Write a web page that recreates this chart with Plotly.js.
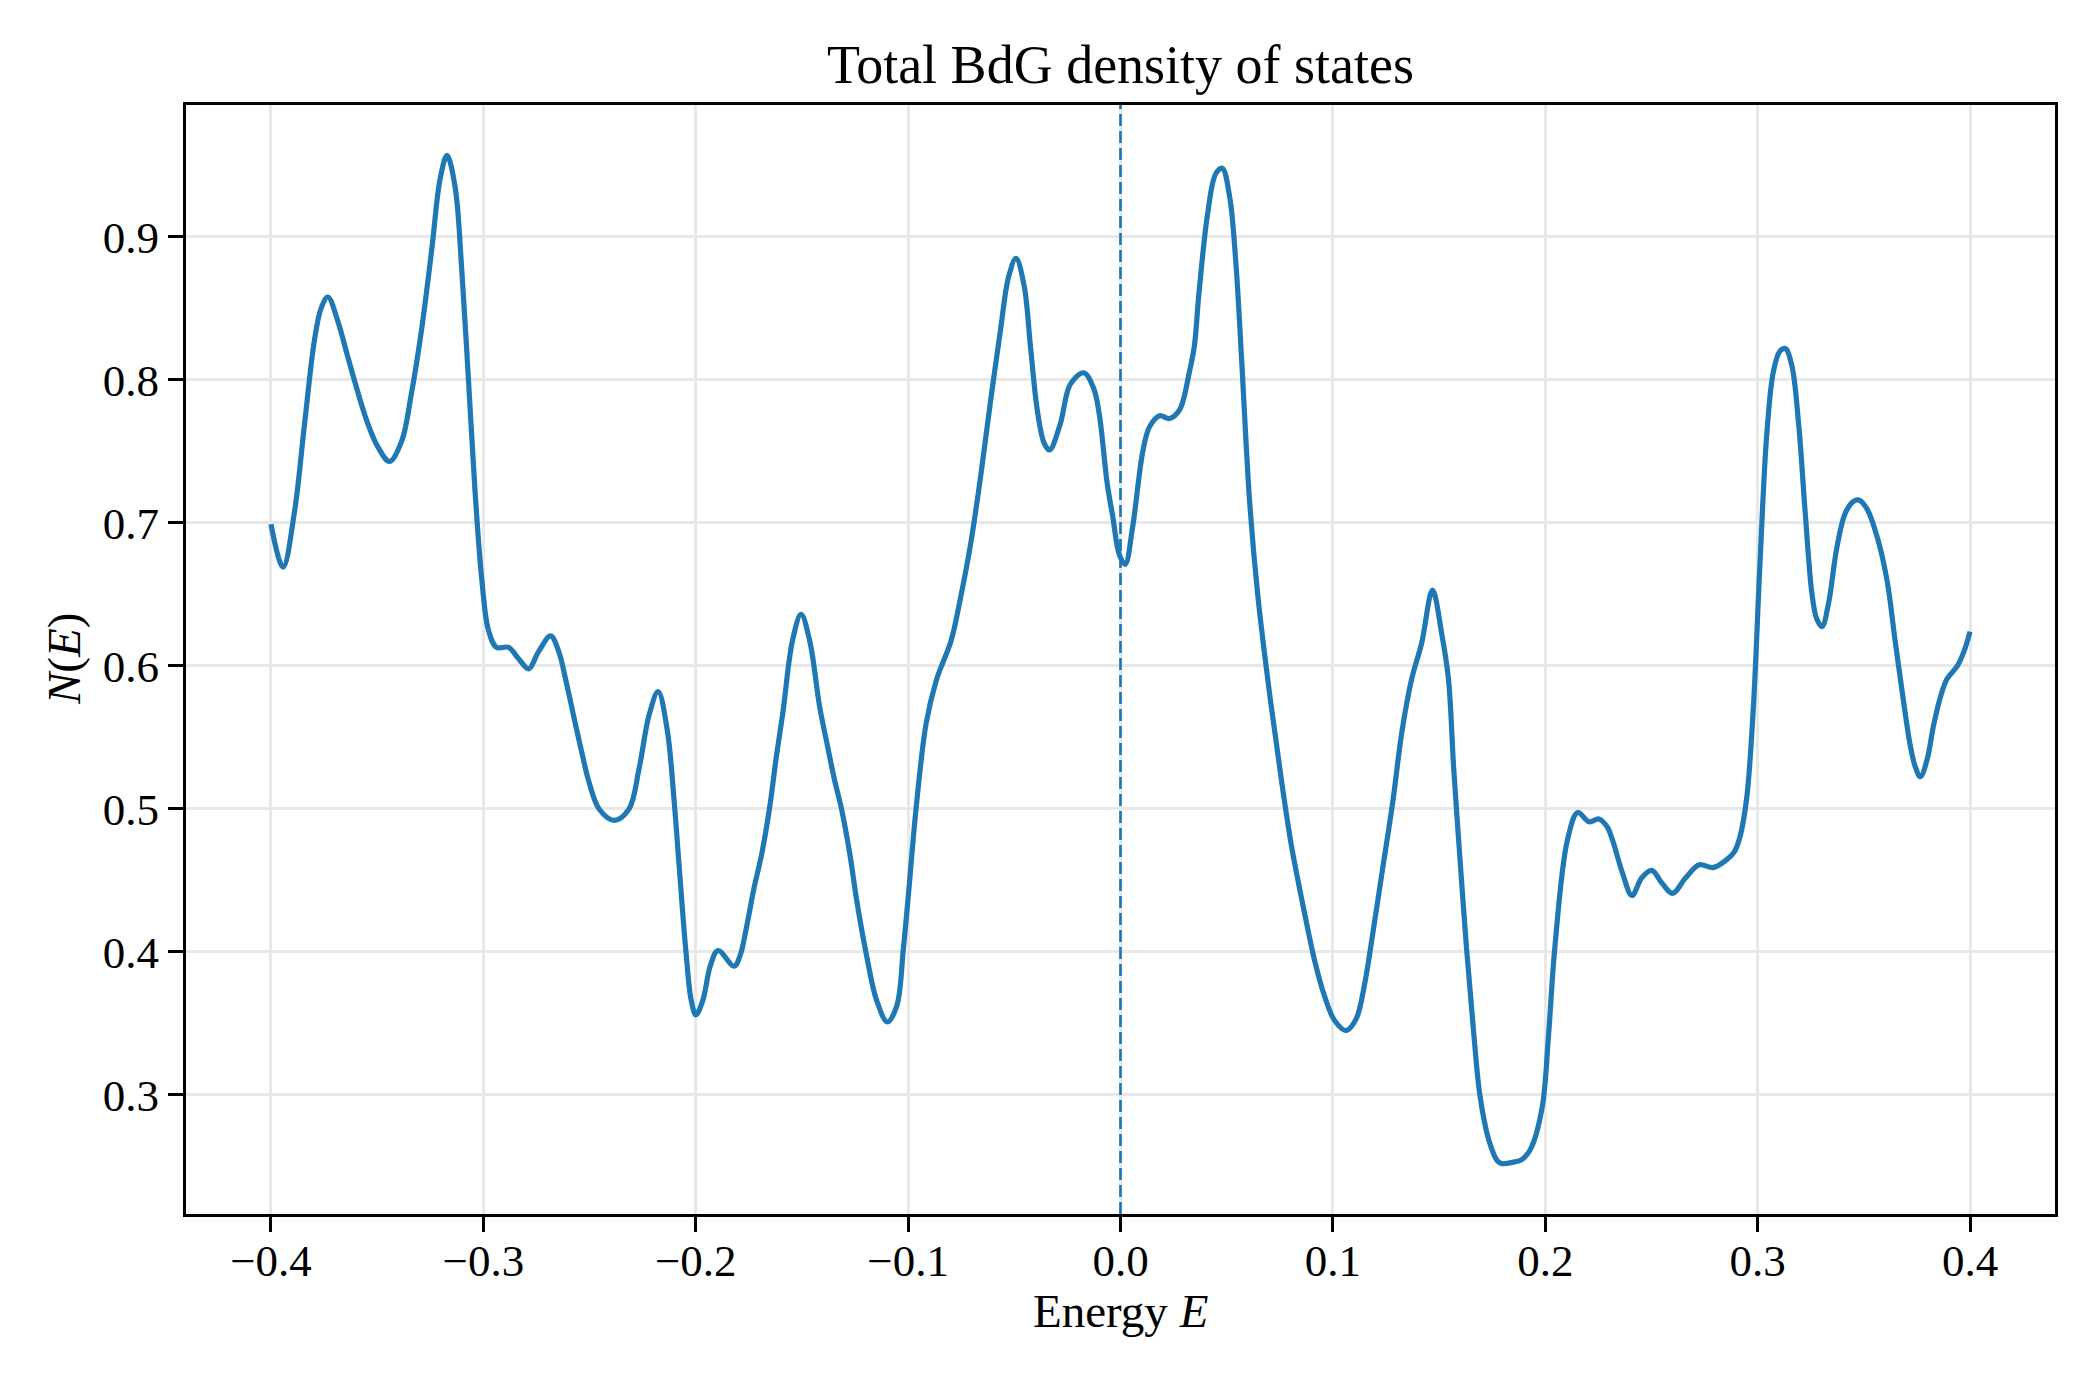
<!DOCTYPE html>
<html>
<head>
<meta charset="utf-8">
<script src="https://cdn.plot.ly/plotly-3.0.1.min.js"></script>
<style>
  html, body { margin: 0; padding: 0; background: #ffffff; }
  #chart { width: 2100px; height: 1380px; }
</style>
</head>
<body>
<div id="chart"></div>
<script>
// Energy grid (E) and total BdG density of states N(E)
const energy = [
  -0.4000, -0.3943, -0.3890, -0.3842, -0.3795, -0.3764, -0.3732, -0.3685, -0.3638, -0.3590,
  -0.3543, -0.3496, -0.3442, -0.3385, -0.3338, -0.3291, -0.3243, -0.3203, -0.3171, -0.3133,
  -0.3102, -0.3070, -0.3039, -0.3007, -0.2976, -0.2938, -0.2881, -0.2834, -0.2787, -0.2740,
  -0.2683, -0.2645, -0.2613, -0.2566, -0.2534, -0.2503, -0.2455, -0.2383, -0.2314, -0.2267,
  -0.2219, -0.2177, -0.2134, -0.2103, -0.2078, -0.2046, -0.2021, -0.1999, -0.1967, -0.1930,
  -0.1895, -0.1819, -0.1790, -0.1760, -0.1725, -0.1690, -0.1652, -0.1620, -0.1590, -0.1544,
  -0.1504, -0.1464, -0.1416, -0.1385, -0.1346, -0.1315, -0.1275, -0.1242, -0.1195, -0.1148,
  -0.1097, -0.1053, -0.1022, -0.1001, -0.0962, -0.0915, -0.0867, -0.0797, -0.0754, -0.0706,
  -0.0659, -0.0612, -0.0565, -0.0527, -0.0492, -0.0454, -0.0423, -0.0391, -0.0360, -0.0334,
  -0.0284, -0.0236, -0.0173, -0.0126, -0.0099, -0.0063, -0.0036, -0.0006, 0.0022, 0.0056,
   0.0105, 0.0136, 0.0184, 0.0231, 0.0278, 0.0325, 0.0348, 0.0369, 0.0410, 0.0448,
   0.0479, 0.0514, 0.0545, 0.0570, 0.0608, 0.0646, 0.0700, 0.0756, 0.0804, 0.0860,
   0.0914, 0.0961, 0.1008, 0.1062, 0.1109, 0.1150, 0.1191, 0.1235, 0.1283, 0.1324,
   0.1371, 0.1418, 0.1469, 0.1513, 0.1544, 0.1569, 0.1598, 0.1629, 0.1661, 0.1692,
   0.1733, 0.1774, 0.1796, 0.1850, 0.1891, 0.1932, 0.1985, 0.2015, 0.2045, 0.2104,
   0.2153, 0.2206, 0.2253, 0.2291, 0.2317, 0.2364, 0.2408, 0.2455, 0.2501, 0.2550,
   0.2599, 0.2662, 0.2725, 0.2790, 0.2850, 0.2890, 0.2916, 0.2948, 0.2979, 0.3011,
   0.3042, 0.3073, 0.3104, 0.3130, 0.3161, 0.3193, 0.3224, 0.3256, 0.3278, 0.3303,
   0.3334, 0.3372, 0.3413, 0.3451, 0.3476, 0.3514, 0.3561, 0.3609, 0.3646, 0.3687,
   0.3719, 0.3741, 0.3766, 0.3797, 0.3829, 0.3860, 0.3892, 0.3940, 0.3971, 0.4000
];

const dos = [
  0.699, 0.669, 0.707, 0.769, 0.828, 0.850, 0.858, 0.841, 0.816, 0.791,
  0.769, 0.753, 0.743, 0.757, 0.791, 0.835, 0.891, 0.941, 0.957, 0.935,
  0.878, 0.800, 0.722, 0.660, 0.625, 0.613, 0.613, 0.605, 0.598, 0.610,
  0.621, 0.610, 0.591, 0.559, 0.538, 0.519, 0.500, 0.492, 0.500, 0.528,
  0.566, 0.582, 0.555, 0.508, 0.460, 0.400, 0.366, 0.356, 0.366, 0.391,
  0.401, 0.390, 0.398, 0.418, 0.445, 0.468, 0.501, 0.537, 0.567, 0.618,
  0.636, 0.618, 0.571, 0.548, 0.520, 0.501, 0.469, 0.436, 0.397, 0.366,
  0.351, 0.3625, 0.403, 0.436, 0.501, 0.560, 0.590, 0.618, 0.647, 0.685,
  0.732, 0.785, 0.835, 0.872, 0.885, 0.866, 0.822, 0.778, 0.756, 0.751,
  0.769, 0.797, 0.805, 0.794, 0.775, 0.728, 0.704, 0.678, 0.671, 0.696,
  0.750, 0.767, 0.775, 0.773, 0.779, 0.806, 0.824, 0.860, 0.916, 0.944,
  0.948, 0.928, 0.878, 0.815, 0.715, 0.650, 0.583, 0.522, 0.475, 0.432,
  0.394, 0.369, 0.352, 0.345, 0.353, 0.378, 0.416, 0.459, 0.506, 0.553,
  0.591, 0.616, 0.653, 0.622, 0.591, 0.528, 0.466, 0.403, 0.347, 0.300,
  0.269, 0.254, 0.252, 0.253, 0.255, 0.2625, 0.291, 0.341, 0.403, 0.478,
  0.4975, 0.491, 0.493, 0.4875, 0.478, 0.455, 0.4395, 0.452, 0.457, 0.448,
  0.441, 0.452, 0.461, 0.459, 0.464, 0.470, 0.480, 0.507, 0.569, 0.672,
  0.760, 0.805, 0.820, 0.822, 0.810, 0.769, 0.707, 0.650, 0.633, 0.6275,
  0.644, 0.682, 0.707, 0.715, 0.716, 0.710, 0.691, 0.660, 0.619, 0.575,
  0.544, 0.530, 0.5225, 0.534, 0.559, 0.578, 0.591, 0.600, 0.610, 0.624
];

// Axis ticks and labels
const xTickVals = [-0.4, -0.3, -0.2, -0.1, 0.0, 0.1, 0.2, 0.3, 0.4];
const xTickText = ['\u22120.4', '\u22120.3', '\u22120.2', '\u22120.1', '0.0', '0.1', '0.2', '0.3', '0.4'];
const yTickVals = [0.3, 0.4, 0.5, 0.6, 0.7, 0.8, 0.9];
const yTickText = ['0.3', '0.4', '0.5', '0.6', '0.7', '0.8', '0.9'];

// Fermi level marker
const fermiEnergy = 0.0;

const lineBlue = '#1f77b4';
const serif = 'Liberation Serif, Times New Roman, DejaVu Serif, serif';

// Axis limits padded by 5% of the data span on each side
const xMin = Math.min(...energy), xMax = Math.max(...energy);
const yMin = Math.min(...dos), yMax = Math.max(...dos);
const xPad = 0.05 * (xMax - xMin), yPad = 0.05 * (yMax - yMin);
const yLow = yMin - yPad, yHigh = yMax + yPad;

const fermiLine = {
  x: [fermiEnergy, fermiEnergy],
  y: [yLow, yHigh],
  type: 'scatter',
  mode: 'lines',
  line: { color: lineBlue, width: 2.7, dash: '12px,5px' },
  hoverinfo: 'skip',
  cliponaxis: false
};

const dosTrace = {
  x: energy,
  y: dos,
  type: 'scatter',
  mode: 'lines',
  line: { color: lineBlue, width: 5.2, shape: 'spline', smoothing: 1.0 },
  hoverinfo: 'x+y'
};

const axisCommon = {
  showgrid: true,
  gridcolor: '#e8e8e8',
  gridwidth: 3,
  zeroline: false,
  showline: true,
  linecolor: '#000000',
  linewidth: 3,
  mirror: true,
  ticks: 'outside',
  ticklen: 15,
  tickwidth: 3,
  tickcolor: '#000000',
  tickfont: { family: serif, size: 45, color: '#000000' },
  automargin: false
};

const layout = {
  width: 2100,
  height: 1380,
  margin: { l: 186, r: 45, t: 105, b: 166, pad: 0 },
  paper_bgcolor: '#ffffff',
  plot_bgcolor: '#ffffff',
  showlegend: false,
  font: { family: serif, color: '#000000', size: 45 },
  title: {
    text: 'Total BdG density of states',
    font: { family: serif, size: 54, color: '#000000' },
    x: 0.5, xref: 'paper', xanchor: 'center',
    y: 1 - 64 / 1380, yref: 'container', yanchor: 'middle'
  },
  xaxis: Object.assign({}, axisCommon, {
    range: [xMin - xPad, xMax + xPad],
    tickmode: 'array',
    tickvals: xTickVals,
    ticktext: xTickText,
    ticklabelstandoff: -10
  }),
  yaxis: Object.assign({}, axisCommon, {
    range: [yLow, yHigh],
    tickmode: 'array',
    tickvals: yTickVals,
    ticktext: yTickText
  }),
  annotations: [
    {
      text: 'Energy <i>E</i>',
      xref: 'paper', yref: 'paper',
      x: 0.5, y: -0.0875,
      xanchor: 'center', yanchor: 'middle',
      showarrow: false,
      font: { family: serif, size: 47, color: '#000000' }
    },
    {
      text: '<i>N</i>(<i>E</i>)',
      xref: 'paper', yref: 'paper',
      x: -0.0655, y: 0.5,
      xanchor: 'center', yanchor: 'middle',
      textangle: -90,
      showarrow: false,
      font: { family: serif, size: 47, color: '#000000' }
    }
  ]
};

Plotly.newPlot('chart', [fermiLine, dosTrace], layout, { staticPlot: true, displayModeBar: false });
</script>
</body>
</html>
